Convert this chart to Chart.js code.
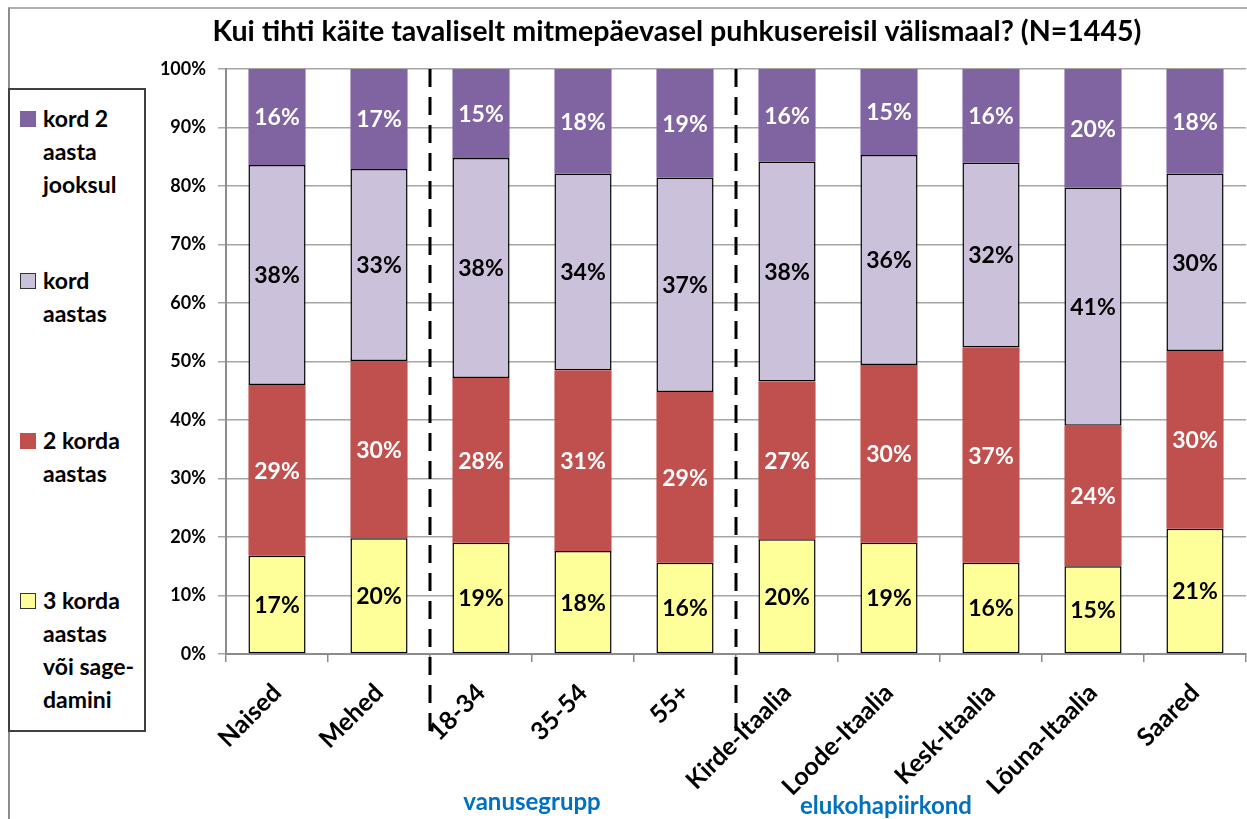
<!DOCTYPE html>
<html>
<head>
<meta charset="utf-8">
<script src="https://cdn.jsdelivr.net/npm/chart.js@4/dist/chart.umd.min.js"></script>
<style>
  body { margin: 0; background: #fff; font-family: Lato, "Open Sans", sans-serif; }
  #wrap { position: relative; width: 1247px; height: 819px; }
  #frame { position: absolute; left: 8px; top: 7px; width: 1300px; height: 900px; border-left: 2px solid #8c8c8c; border-top: 2px solid #b0b0b0; }
  #legend { position: absolute; left: 8px; top: 88px; width: 134px; height: 640px; border: 2px solid #404040; background: #fff; }
  .item { position: absolute; left: 10px; font-weight: bold; font-size: 23px; line-height: 33px; color: #000; }
  .item span.sw { position: absolute; left: 0; top: 9px; width: 16px; height: 16px; box-sizing: border-box; }
  .item div { margin-left: 23px; white-space: nowrap; }
  canvas { position: absolute; left: 0; top: 0; }
</style>
</head>
<body>
<div id="wrap">
  <div id="frame"></div>
  <div id="legend"></div>
  <canvas id="chart" width="1247" height="819"></canvas>
</div>
<script>
const categories = ['Naised', 'Mehed', '18-34', '35-54', '55+', 'Kirde-Itaalia', 'Loode-Itaalia', 'Kesk-Itaalia', 'Lõuna-Itaalia', 'Saared'];
const seriesNames = ['3 korda aastas või sage-damini', '2 korda aastas', 'kord aastas', 'kord 2 aasta jooksul'];
// legend lines as printed in the box
const legendLines = [['3 korda', 'aastas', 'või sage-', 'damini'], ['2 korda', 'aastas'], ['kord', 'aastas'], ['kord 2', 'aasta', 'jooksul']];
const often = [16.8, 19.8, 19.0, 17.6, 15.6, 19.6, 19.0, 15.6, 15.0, 21.4];
const twice = [29.2, 30.3, 28.2, 30.9, 29.2, 27.0, 30.4, 36.8, 24.0, 30.4];
const once = [37.6, 32.8, 37.6, 33.6, 36.6, 37.6, 35.9, 31.6, 40.7, 30.3];
const biennial = [16.4, 17.1, 15.2, 17.9, 18.6, 15.8, 14.7, 16.0, 20.3, 17.9];
const yTicks = [0, 10, 20, 30, 40, 50, 60, 70, 80, 90, 100];
const groupLabels = ['vanusegrupp', 'elukohapiirkond'];
const titleText = 'Kui tihti käite tavaliselt mitmepäevasel puhkusereisil välismaal? (N=1445)';

const colors = ['#FFFF99', '#C0504D', '#CCC1DA', '#8064A2'];
const labelColors = ['#000', '#fff', '#000', '#fff'];
const hasBorder = [true, false, true, false];
const seriesData = [often, twice, once, biennial];

// legend (top series first)
const legendEl = document.getElementById('legend');
const legendTops = [12, 174, 334, 494];
[3, 2, 1, 0].forEach((s, i) => {
    const item = document.createElement('div');
    item.className = 'item';
    item.style.top = legendTops[i] + 'px';
    const sw = document.createElement('span');
    sw.className = 'sw';
    sw.style.background = colors[s];
    if (hasBorder[s]) sw.style.border = '1.5px solid #333';
    item.appendChild(sw);
    const txt = document.createElement('div');
    txt.innerHTML = legendLines[s].join('<br>');
    item.appendChild(txt);
    legendEl.appendChild(item);
});

const FONT = 'Lato, "Open Sans", sans-serif';

const segmentLabels = {
    id: 'segmentLabels',
    afterDatasetsDraw(chart) {
        const ctx = chart.ctx;
        ctx.save();
        ctx.font = 'bold 23px ' + FONT;
        ctx.textAlign = 'center';
        ctx.textBaseline = 'middle';
        chart.data.datasets.forEach((ds, di) => {
            chart.getDatasetMeta(di).data.forEach((bar, i) => {
                const p = bar.getCenterPoint();
                ctx.fillStyle = labelColors[di];
                ctx.fillText(Math.round(ds.data[i]) + '%', p.x, p.y + 1);
            });
        });
        ctx.restore();
    }
};

const extras = {
    id: 'extras',
    afterDraw(chart) {
        const ctx = chart.ctx;
        const x = chart.scales.x;
        const top = chart.chartArea.top;
        ctx.save();
        // title
        ctx.font = 'bold 28.6px ' + FONT;
        ctx.fillStyle = '#000';
        ctx.textAlign = 'center';
        ctx.textBaseline = 'middle';
        ctx.fillText(titleText, 677, 32);
        // dashed group separators
        ctx.strokeStyle = '#000';
        ctx.lineWidth = 3;
        ctx.setLineDash([18, 10]);
        [1.5, 4.5].forEach(v => {
            const px = Math.round((x.getPixelForValue(Math.floor(v)) + x.getPixelForValue(Math.ceil(v))) / 2);
            ctx.beginPath();
            ctx.moveTo(px, top);
            ctx.lineTo(px, 736);
            ctx.stroke();
        });
        ctx.setLineDash([]);
        // group names
        ctx.font = 'bold 24px ' + FONT;
        ctx.fillStyle = '#0070C0';
        ctx.fillText(groupLabels[0], (x.getPixelForValue(2) + x.getPixelForValue(3)) / 2, 802);
        ctx.fillText(groupLabels[1], x.getPixelForValue(6) - 3, 806);
        ctx.restore();
    }
};

new Chart(document.getElementById('chart'), {
    type: 'bar',
    data: {
        labels: categories,
        datasets: seriesData.map((d, i) => ({
            label: seriesNames[i],
            data: d,
            backgroundColor: colors[i],
            borderColor: '#000',
            borderWidth: hasBorder[i] ? 1.5 : 0,
            borderSkipped: false,
            categoryPercentage: 1,
            barPercentage: 0.56
        }))
    },
    options: {
        responsive: false,
        animation: false,
        layout: { padding: { left: 150, right: 1, top: 69, bottom: 0 } },
        plugins: {
            legend: { display: false },
            tooltip: { enabled: false },
            title: { display: false }
        },
        scales: {
            x: {
                stacked: true,
                border: { display: true, color: '#8c8c8c', width: 2 },
                grid: { offset: true, drawOnChartArea: false, drawTicks: true, tickLength: 8, color: '#8c8c8c', lineWidth: 1.5 },
                ticks: {
                    color: '#000',
                    font: { family: FONT, size: 25, weight: 'bold' },
                    minRotation: 45,
                    maxRotation: 45,
                    padding: 16,
                    autoSkip: false
                },
                afterFit(scale) { scale.height = 165; }
            },
            y: {
                stacked: true,
                min: 0,
                max: 100,
                afterBuildTicks(scale) { scale.ticks = yTicks.map(v => ({ value: v })); },
                border: { display: true, color: '#8c8c8c', width: 2 },
                grid: { color: '#a6a6a6', lineWidth: 1.5, tickLength: 8 },
                ticks: {
                    color: '#000',
                    font: { family: FONT, size: 18, weight: 'bold' },
                    padding: 12,
                    callback: v => v + '%'
                },
                afterFit(scale) { scale.width = 76; }
            }
        }
    },
    plugins: [segmentLabels, extras]
});
</script>
</body>
</html>
